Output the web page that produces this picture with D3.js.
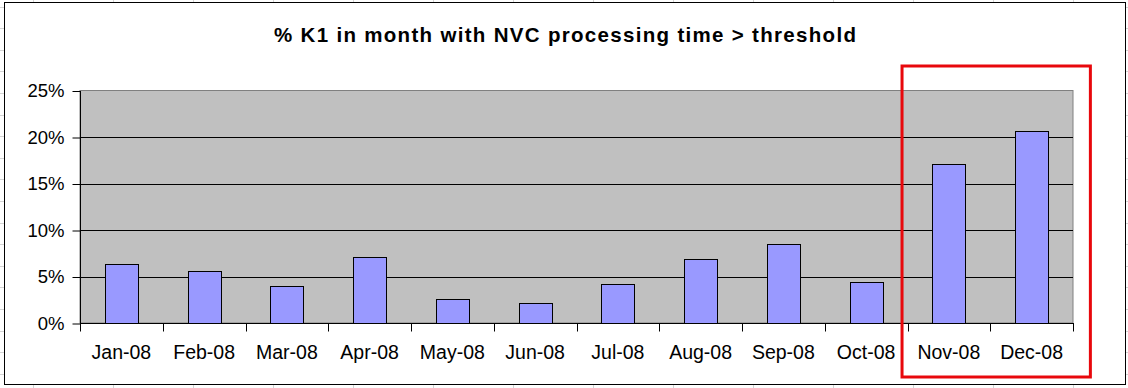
<!DOCTYPE html>
<html>
<head>
<meta charset="utf-8">
<script src="https://cdn.jsdelivr.net/npm/d3@7"></script>
<style>
body { margin: 0; background: #fff; }
svg { display: block; font-family: Arial, "Liberation Sans", sans-serif; }
</style>
</head>
<body>
<div id="container"></div>
<script>
var MONTHS = ["Jan-08", "Feb-08", "Mar-08", "Apr-08", "May-08", "Jun-08",
	      "Jul-08", "Aug-08", "Sep-08", "Oct-08", "Nov-08", "Dec-08"];
var PCT = [6.3, 5.55, 3.95, 7.15, 2.55, 2.1, 4.15, 6.85, 8.45, 4.4, 17.15, 20.65];
var Y_TICKS = [0, 5, 10, 15, 20, 25];
var TITLE = "% K1 in month with NVC processing time > threshold";
var HIGHLIGHT = ["Nov-08", "Dec-08"];

var WIDTH = 1128, HEIGHT = 388;
var PLOT = { left: 80, right: 1073, top: 90.5, bottom: 323 };

var svg = d3.select("#container").append("svg")
    .attr("width", WIDTH)
    .attr("height", HEIGHT);

// spreadsheet cells peeking out around the chart object
var sheet = svg.append("g").attr("stroke", "#d4d4d4").attr("stroke-width", 1);
d3.range(33, WIDTH, 80).forEach(function(x){
    sheet.append("line").attr("x1", x + 0.5).attr("x2", x + 0.5)
	.attr("y1", 0).attr("y2", HEIGHT);
});
d3.range(6.5, HEIGHT, 21.6).forEach(function(y){
    sheet.append("line").attr("x1", 0).attr("x2", WIDTH)
	.attr("y1", Math.round(y) + 0.5).attr("y2", Math.round(y) + 0.5);
});

// chart area
svg.append("rect")
    .attr("x", 4.5).attr("y", 2.5)
    .attr("width", 1121).attr("height", 382)
    .attr("fill", "#fff")
    .attr("stroke", "#000");

var x = d3.scaleBand()
    .domain(MONTHS)
    .range([PLOT.left, PLOT.right])
    .paddingInner(0.6)
    .paddingOuter(0.3);

var y = d3.scaleLinear()
    .domain([0, 25])
    .range([PLOT.bottom, PLOT.top]);

svg.append("text")
    .attr("x", 565)
    .attr("y", 42)
    .attr("text-anchor", "middle")
    .attr("textLength", 582)
    .attr("lengthAdjust", "spacing")
    .style("font-size", "20.5px")
    .style("font-weight", "bold")
    .text(TITLE);

// plot area
svg.append("rect")
    .attr("x", PLOT.left).attr("y", PLOT.top)
    .attr("width", PLOT.right - PLOT.left)
    .attr("height", PLOT.bottom - PLOT.top)
    .attr("fill", "#c0c0c0")
    .attr("stroke", "#808080");

svg.append("g").selectAll("line")
    .data(Y_TICKS.filter(function(t){ return t > 0 && t < 25; }))
    .enter()
    .append("line")
    .attr("x1", PLOT.left).attr("x2", PLOT.right)
    .attr("y1", function(t){ return Math.round(y(t)) + 0.5; })
    .attr("y2", function(t){ return Math.round(y(t)) + 0.5; })
    .attr("stroke", "#000");

svg.append("g").selectAll("rect")
    .data(PCT)
    .enter()
    .append("rect")
    .attr("x", function(d, i){ return Math.round(x(MONTHS[i])) + 0.5; })
    .attr("y", function(d){ return Math.round(y(d)) + 0.5; })
    .attr("width", Math.round(x.bandwidth()))
    .attr("height", function(d){ return Math.round(y(0)) - Math.round(y(d)); })
    .attr("fill", "#9999ff")
    .attr("stroke", "#000");

// y axis
var yAxis = d3.axisLeft(y)
    .tickValues(Y_TICKS)
    .tickSize(8)
    .tickPadding(8)
    .tickFormat(function(t){ return t + "%"; });

svg.append("g")
    .attr("transform", "translate(" + (PLOT.left + 0.5) + ",0.5)")
    .call(yAxis)
    .call(function(g){
	g.select(".domain").attr("d", "M0," + PLOT.top + "V" + PLOT.bottom);
	g.selectAll("text").style("font-size", "18.5px").attr("fill", "#000")
	    .attr("font-family", null);
    });

// x axis: ticks on band edges, labels centred
var xg = svg.append("g")
    .attr("transform", "translate(0," + (Math.round(PLOT.bottom) + 0.5) + ")");

xg.append("line")
    .attr("x1", PLOT.left).attr("x2", PLOT.right + 1)
    .attr("stroke", "#000");

var step = x.step();
xg.selectAll("line.tick")
    .data(d3.range(MONTHS.length + 1))
    .enter()
    .append("line")
    .classed("tick", true)
    .attr("x1", function(i){ return Math.round(PLOT.left + i * step) + 0.5; })
    .attr("x2", function(i){ return Math.round(PLOT.left + i * step) + 0.5; })
    .attr("y1", 0).attr("y2", 8)
    .attr("stroke", "#000");

xg.selectAll("text")
    .data(MONTHS)
    .enter()
    .append("text")
    .attr("x", function(m){ return x(m) + x.bandwidth() / 2; })
    .attr("y", 35)
    .attr("text-anchor", "middle")
    .style("font-size", "19.5px")
    .text(function(m){ return m; });

// red highlight box around the last two months
var hx0 = x(HIGHLIGHT[0]) - 0.366 * step;
var hx1 = x(HIGHLIGHT[HIGHLIGHT.length - 1]) + x.bandwidth() + 0.51 * step;
svg.append("rect")
    .attr("x", hx0).attr("y", 66)
    .attr("width", hx1 - hx0)
    .attr("height", 311)
    .attr("fill", "none")
    .attr("stroke", "#e8080c")
    .attr("stroke-width", 3);
</script>
</body>
</html>
